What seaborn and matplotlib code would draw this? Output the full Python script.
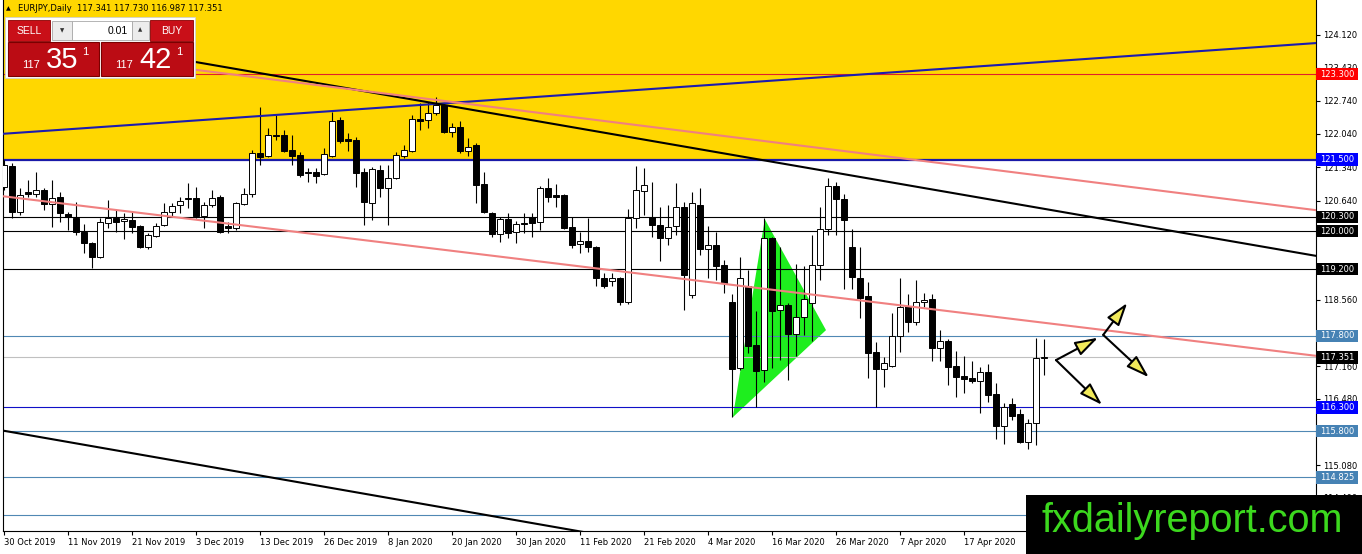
import numpy as np
import pandas as pd
import matplotlib.pyplot as plt
import seaborn as sns
from matplotlib.patches import Rectangle, Polygon, FancyArrowPatch
from matplotlib.transforms import blended_transform_factory

# EURJPY daily candles, 30 Oct 2019 .. 28 Apr 2020
opens = [120.93, 121.37, 120.40, 120.82, 120.78, 120.86, 120.57, 120.72, 120.36, 120.28,
         119.98, 119.75, 119.46, 120.17, 120.28, 120.21, 120.23, 120.11, 119.67, 119.90,
         120.13, 120.40, 120.55, 120.70, 120.70, 120.32, 120.55, 120.72, 120.11, 120.06,
         120.57, 120.78, 121.64, 121.58, 122.02, 122.02, 121.70, 121.60, 121.24, 121.24,
         121.20, 121.58, 122.33, 121.93, 121.91, 121.24, 120.59, 121.28, 120.90, 121.12,
         121.58, 121.68, 122.36, 122.33, 122.48, 122.65, 122.08, 122.19, 121.68, 121.81,
         120.99, 120.38, 119.94, 120.25, 119.98, 120.17, 120.30, 120.19, 120.90, 120.76,
         120.76, 120.09, 119.73, 119.79, 119.67, 119.02, 118.95, 119.02, 118.51, 120.28,
         120.84, 120.30, 120.13, 119.86, 120.11, 120.51, 118.66, 120.55, 119.62, 119.71,
         119.29, 118.51, 117.12, 118.85, 117.61, 117.08, 119.86, 118.34, 118.45, 117.84,
         118.20, 118.49, 119.29, 120.04, 120.95, 120.67, 119.67, 119.02, 118.64, 117.46,
         117.10, 117.17, 117.80, 118.43, 118.09, 118.51, 118.57, 117.54, 117.69, 117.17,
         116.96, 116.91, 116.85, 117.04, 116.58, 115.90, 116.37, 116.16, 115.57, 115.97,
         117.341]
highs = [121.49, 121.43, 120.90, 121.07, 121.24, 120.91, 121.07, 120.82, 120.40, 120.61,
         120.15, 119.77, 120.28, 120.65, 120.44, 120.38, 120.40, 120.13, 119.96, 120.17,
         120.59, 120.59, 120.72, 121.01, 120.93, 120.61, 120.86, 120.76, 120.19, 120.61,
         120.91, 121.70, 122.61, 122.17, 122.44, 122.12, 122.02, 121.66, 121.32, 121.32,
         121.75, 122.50, 122.40, 122.06, 121.98, 121.32, 121.35, 121.39, 121.39, 121.66,
         121.81, 122.44, 122.69, 122.71, 122.82, 122.69, 122.27, 122.31, 121.96, 121.85,
         121.24, 120.40, 120.30, 120.38, 120.21, 120.38, 120.38, 120.95, 121.12, 120.99,
         120.78, 120.30, 119.98, 120.28, 119.69, 119.12, 119.12, 119.04, 120.46, 121.37,
         121.32, 121.03, 120.51, 120.55, 121.01, 120.61, 120.82, 120.91, 120.11, 119.98,
         119.39, 118.68, 119.46, 119.18, 118.32, 120.28, 119.88, 119.67, 118.49, 119.31,
         119.27, 119.92, 120.51, 121.12, 121.03, 120.78, 120.04, 119.67, 118.93, 117.67,
         117.35, 118.28, 119.02, 118.68, 118.97, 118.70, 118.68, 117.92, 117.73, 117.48,
         117.38, 117.27, 117.14, 117.21, 116.81, 116.39, 116.49, 116.26, 116.05, 117.75,
         117.730]
lows = [120.86, 120.27, 120.34, 120.72, 120.72, 120.44, 120.09, 120.19, 120.02, 119.92,
        119.54, 119.23, 119.43, 120.06, 119.98, 119.83, 119.96, 119.65, 119.62, 119.87,
        120.11, 120.30, 120.38, 120.49, 120.28, 120.06, 120.51, 119.96, 119.96, 120.02,
        120.55, 120.72, 121.39, 121.56, 121.91, 121.66, 121.39, 121.14, 121.03, 121.01,
        121.18, 121.56, 121.85, 121.68, 120.93, 120.13, 120.23, 120.72, 120.13, 121.09,
        121.54, 121.66, 122.12, 122.17, 122.44, 122.06, 121.98, 121.64, 121.58, 120.59,
        120.38, 119.88, 119.77, 119.86, 119.75, 119.96, 119.88, 120.02, 120.61, 120.51,
        120.04, 119.65, 119.54, 119.56, 118.85, 118.80, 118.85, 118.45, 118.47, 120.06,
        120.34, 119.88, 119.37, 119.71, 119.92, 118.34, 118.59, 119.50, 119.02, 118.97,
        118.70, 116.09, 117.08, 117.44, 116.30, 116.83, 117.12, 117.29, 116.87, 117.38,
        117.82, 117.69, 118.97, 119.92, 119.92, 118.78, 118.78, 118.17, 116.91, 116.30,
        116.73, 117.14, 117.46, 117.88, 118.03, 118.41, 117.27, 117.27, 116.77, 116.51,
        116.60, 116.81, 116.18, 116.41, 115.63, 115.53, 116.03, 115.55, 115.42, 115.51,
        116.987]
closes = [121.39, 120.40, 120.76, 120.78, 120.86, 120.57, 120.70, 120.38, 120.30, 119.98,
          119.75, 119.46, 120.19, 120.28, 120.19, 120.25, 120.09, 119.67, 119.92, 120.11,
          120.40, 120.53, 120.63, 120.67, 120.32, 120.55, 120.70, 119.98, 120.06, 120.59,
          120.78, 121.64, 121.56, 122.02, 122.00, 121.68, 121.58, 121.18, 121.22, 121.16,
          121.62, 122.31, 121.89, 121.89, 121.22, 120.61, 121.30, 120.90, 121.12, 121.60,
          121.70, 122.36, 122.31, 122.48, 122.65, 122.08, 122.19, 121.68, 121.77, 120.97,
          120.40, 119.94, 120.25, 119.96, 120.15, 120.15, 120.17, 120.90, 120.72, 120.72,
          120.06, 119.71, 119.79, 119.67, 119.02, 118.85, 119.02, 118.51, 120.28, 120.86,
          120.97, 120.13, 119.86, 120.09, 120.51, 119.08, 120.59, 119.62, 119.71, 119.27,
          118.91, 117.10, 119.02, 117.59, 117.06, 119.86, 118.32, 118.45, 117.84, 118.20,
          118.57, 119.29, 120.04, 120.95, 120.67, 120.23, 119.04, 118.59, 117.44, 117.10,
          117.23, 117.80, 118.41, 118.09, 118.51, 118.55, 117.54, 117.69, 117.15, 116.93,
          116.89, 116.85, 117.04, 116.56, 115.90, 116.30, 116.12, 115.57, 115.97, 117.34,
          117.351]

date_labels = ['30 Oct 2019', '11 Nov 2019', '21 Nov 2019', '3 Dec 2019', '13 Dec 2019',
               '26 Dec 2019', '8 Jan 2020', '20 Jan 2020', '30 Jan 2020', '11 Feb 2020',
               '21 Feb 2020', '4 Mar 2020', '16 Mar 2020', '26 Mar 2020', '7 Apr 2020',
               '17 Apr 2020']
date_bars = [0, 8, 16, 24, 32, 40, 48, 56, 64, 72, 80, 88, 96, 104, 112, 120]

price_ticks = [124.12, 123.43, 122.74, 122.04, 121.34, 120.64, 119.94, 119.25,
               118.56, 117.86, 117.16, 116.48, 115.78, 115.08, 114.40]
# ticks whose labels sit fully under a price box in the terminal
hidden_ticks = [119.94, 119.25, 117.86, 115.78]

# horizontal levels and their label colours
levels = [123.300, 121.500, 120.300, 120.000, 119.200, 117.800, 117.351,
          116.300, 115.800, 114.825, 114.040]
level_line = ['#e0202a', '#1a1aa8', 'black', 'black', 'black', '#5088b4', '#c0c0c0',
              '#1010c8', '#5088b4', '#5088b4', '#5088b4']
level_lw = [0.8, 1.6, 0.8, 0.8, 0.8, 0.8, 0.8, 0.8, 0.8, 0.8, 0.8]
level_box = ['#ff0000', '#0000ff', 'black', 'black', 'black', '#4682b4', 'black',
             '#0000ff', '#4682b4', '#4682b4', '#4682b4']

# trend lines: (bar, price) end points
trend_blue = ([-0.5, 164], [122.04, 123.95])
trend_black_up = ([12, 164], [123.90, 119.48])
trend_pink_up = ([12, 164], [123.64, 120.44])
trend_pink_low = ([-0.5, 164], [120.74, 117.38])
trend_black_low = ([-0.5, 164], [115.82, 110.99])

triangle = [(91.1, 116.09), (95.1, 120.25), (102.75, 117.92)]

arrows = [((131.5, 117.29), (137.25, 116.35)),
          ((131.5, 117.29), (136.75, 117.76)),
          ((137.4, 117.82), (140.4, 118.49)),
          ((137.4, 117.82), (143.1, 116.93))]

df = pd.DataFrame({'open': opens, 'high': highs, 'low': lows, 'close': closes})
df['bar'] = np.arange(len(df))
df['up'] = df['close'] >= df['open']

sns.set_theme(style='ticks')
plt.rcParams['font.family'] = ['DejaVu Sans']

fig = plt.figure(figsize=(13.62, 5.54), dpi=100)
fig.patch.set_facecolor('white')
ax = fig.add_axes([3 / 1362, 23 / 554, 1313 / 1362, 531 / 554])
ax.set_facecolor('white')
ax.set_xlim(-0.125, 164)
ax.set_ylim(113.70, 124.855)

# gold zone
ax.axhspan(121.5, 126, color='#ffd700', lw=0, zorder=0.3)
ax.add_patch(Polygon(triangle, closed=True, facecolor='#1eee1e', edgecolor='none', zorder=0.6))

for p, c, w in zip(levels, level_line, level_lw):
    ax.axhline(p, color=c, lw=w, zorder=1)

# candles
ax.vlines(df['bar'], df['low'], df['high'], color='black', lw=0.8, zorder=2)
bottoms = np.minimum(df['open'], df['close'])
heights = np.maximum((df['close'] - df['open']).abs(), 0.012)
ax.bar(df['bar'], heights, bottom=bottoms, width=0.64,
       color=np.where(df['up'], 'white', 'black'), edgecolor='black', lw=0.7, zorder=3)

for (xs, ys), col in [(trend_blue, '#1c1cae'), (trend_black_up, 'black'),
                      (trend_pink_up, '#f08080'), (trend_pink_low, '#f08080'),
                      (trend_black_low, 'black')]:
    sns.lineplot(x=xs, y=ys, ax=ax, color=col, lw=1.5, zorder=4)

for a, b in arrows:
    ax.add_patch(FancyArrowPatch(a, b, arrowstyle='-|>,head_length=1.4,head_width=0.45',
                                 mutation_scale=10, lw=1.5, edgecolor='black',
                                 facecolor='#f2ea5a', zorder=5, shrinkA=0, shrinkB=0))

# axes look
ax.spines['top'].set_visible(False)
for side in ['left', 'right', 'bottom']:
    ax.spines[side].set_color('black')
    ax.spines[side].set_linewidth(0.8)
ax.yaxis.tick_right()
ax.set_yticks(price_ticks)
ax.set_yticklabels(['' if t in hidden_ticks else f'{t:.3f}' for t in price_ticks])
ax.set_xticks(date_bars)
ax.set_xticklabels(date_labels)
plt.setp(ax.get_xticklabels(), ha='left')
ax.tick_params(axis='y', length=3, width=0.8, pad=2, labelsize=6, colors='black')
ax.tick_params(axis='x', length=3, width=0.8, pad=2, labelsize=6, colors='black')
ax.set_xlabel('')
ax.set_ylabel('')

# price labels on the right
trans = blended_transform_factory(ax.transAxes, ax.transData)
bw = 42 / 1313
bh = 6.3 / 47.6
for p, c in zip(levels, level_box):
    ax.add_patch(Rectangle((1.0, p - bh), bw, 2 * bh, transform=trans, facecolor=c,
                           edgecolor='none', clip_on=False, zorder=6))
    ax.text(1.0 + 4 / 1313, p, f'{p:.3f}', transform=trans, color='white', fontsize=6,
            va='center', ha='left', clip_on=False, zorder=7)

# overlay: header, trade panel, watermark
ov = fig.add_axes([0, 0, 1, 1], zorder=10)
ov.set_xlim(0, 1362)
ov.set_ylim(554, 0)
ov.axis('off')
ov.patch.set_alpha(0)

ov.text(6, 8.5, '▲', fontsize=4.5, va='center', ha='left', color='black')
ov.text(18, 8.5, 'EURJPY,Daily  117.341 117.730 116.987 117.351', fontsize=6,
        va='center', ha='left', color='black')

ov.add_patch(Rectangle((5, 17), 190, 61, facecolor='white', edgecolor='#d0d0d0', lw=0.6))
red = '#c90f18'
ov.add_patch(Rectangle((8, 20), 42, 21, facecolor=red, edgecolor='#8a0000', lw=0.6))
ov.text(29, 31, 'SELL', color='white', fontsize=7.5, ha='center', va='center',
        family=['Liberation Sans', 'DejaVu Sans'])
ov.add_patch(Rectangle((52, 21), 20, 19, facecolor='#ececec', edgecolor='#a8a8a8', lw=0.6))
ov.text(62, 31, '▼', fontsize=4, ha='center', va='center', color='#333333')
ov.add_patch(Rectangle((72, 21), 60, 19, facecolor='white', edgecolor='#a8a8a8', lw=0.6))
ov.text(128, 31, '0.01', fontsize=7.5, ha='right', va='center', color='black',
        family=['Liberation Sans', 'DejaVu Sans'])
ov.add_patch(Rectangle((132, 21), 17, 19, facecolor='#ececec', edgecolor='#a8a8a8', lw=0.6))
ov.text(140.5, 30, '▲', fontsize=4, ha='center', va='center', color='#333333')
ov.add_patch(Rectangle((150, 20), 43, 21, facecolor=red, edgecolor='#8a0000', lw=0.6))
ov.text(171.5, 31, 'BUY', color='white', fontsize=7.5, ha='center', va='center',
        family=['Liberation Sans', 'DejaVu Sans'])

for x0, w, big, xs, xb, xsup in [(8, 91, '35', 22, 46, 82), (101, 92, '42', 115, 139, 176)]:
    ov.add_patch(Rectangle((x0, 42), w, 34, facecolor='#bb0c14', edgecolor='#7a0000', lw=0.8))
    ov.text(xs, 68.5, '117', color='white', fontsize=8, ha='left', va='baseline',
            family=['Liberation Sans', 'DejaVu Sans'])
    ov.text(xb, 68.5, big, color='white', fontsize=21, ha='left', va='baseline',
            family=['Liberation Sans', 'DejaVu Sans'])
    ov.text(xsup, 55, '1', color='white', fontsize=8, ha='left', va='baseline',
            family=['Liberation Sans', 'DejaVu Sans'])

ov.add_patch(Rectangle((1026, 495), 340, 62, facecolor='black', edgecolor='none'))
ov.text(1042, 532, 'fxdailyreport.com', color='#3cd81e', fontsize=28.5, ha='left',
        va='baseline', family=['Liberation Sans', 'DejaVu Sans'])

fig.savefig('out.png', dpi=100, facecolor='white')
